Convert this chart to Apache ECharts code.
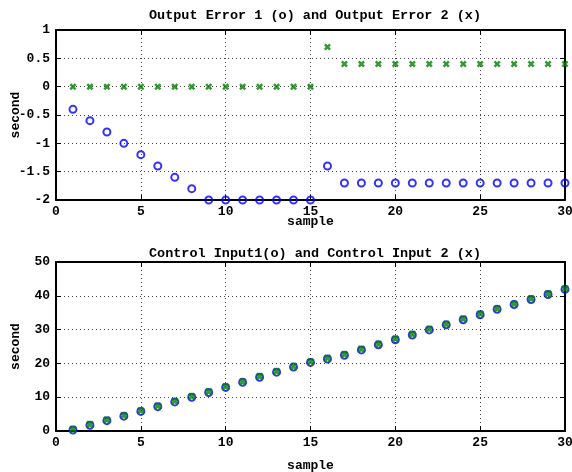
<!DOCTYPE html>
<html>
<head>
<meta charset="utf-8">
<script src="https://cdn.jsdelivr.net/npm/echarts@6/dist/echarts.min.js"></script>
<style>
  html, body { margin: 0; padding: 0; background: #fff; }
  #chart { width: 572px; height: 472px; }
</style>
</head>
<body>
<div id="chart"></div>
<script>
// sample index (x axis)
const samples = [1, 2, 3, 4, 5, 6, 7, 8, 9, 10, 11, 12, 13, 14, 15,
  16, 17, 18, 19, 20, 21, 22, 23, 24, 25, 26, 27, 28, 29, 30];

// top plot
const outputError1 = [-0.4, -0.6, -0.8, -1.0, -1.2, -1.4, -1.6, -1.8, -2, -2, -2, -2, -2, -2, -2,
  -1.4, -1.7, -1.7, -1.7, -1.7, -1.7, -1.7, -1.7, -1.7, -1.7, -1.7, -1.7, -1.7, -1.7, -1.7];
const outputError2 = [0, 0, 0, 0, 0, 0, 0, 0, 0, 0, 0, 0, 0, 0, 0,
  0.7, 0.4, 0.4, 0.4, 0.4, 0.4, 0.4, 0.4, 0.4, 0.4, 0.4, 0.4, 0.4, 0.4, 0.4];

// bottom plot
const controlInput1 = [0.3, 1.7, 3.05, 4.4, 5.8, 7.2, 8.6, 10.0, 11.4, 12.9, 14.4, 15.9, 17.4, 18.9, 20.3,
  21.3, 22.4, 24.0, 25.5, 27.0, 28.4, 29.9, 31.4, 32.9, 34.4, 36.0, 37.4, 38.9, 40.4, 41.9];
const controlInput2 = [0.5, 1.9, 3.25, 4.6, 6.0, 7.4, 8.8, 10.2, 11.6, 13.1, 14.6, 16.1, 17.6, 19.1, 20.5,
  21.5, 22.6, 24.2, 25.7, 27.2, 28.6, 30.1, 31.6, 33.1, 34.6, 36.2, 37.6, 39.1, 40.6, 42.1];

const FONT = 'Liberation Mono';
const crossPath = 'path://M0,2.5L2.5,0L5,2.5L7.5,0L10,2.5L7.5,5L10,7.5L7.5,10L5,7.5L2.5,10L0,7.5L2.5,5Z';

const pairs = (ys) => samples.map((x, i) => [x, ys[i]]);

const labelStyle = { color: '#000', fontFamily: FONT, fontWeight: 'bold', fontSize: 13 };
const titleStyle = { color: '#000', fontFamily: FONT, fontWeight: 'bold', fontSize: 13.5 };

function mainX(gridIndex, nameGap) {
  return {
    type: 'value', gridIndex, min: 0, max: 30, interval: 5,
    name: 'sample', nameLocation: 'middle', nameGap, nameMoveOverlap: false,
    nameTextStyle: labelStyle,
    axisLine: { show: true, onZero: false, lineStyle: { color: '#000', width: 2 } },
    axisTick: { show: true, inside: true, length: 5, lineStyle: { color: '#000', width: 1 } },
    axisLabel: Object.assign({ margin: 5 }, labelStyle),
    splitLine: { show: true, lineStyle: { color: '#444', width: 1, type: [1, 3] } }
  };
}
function sideX(gridIndex) {
  return {
    type: 'value', gridIndex, min: 0, max: 30, interval: 5, position: 'top',
    axisLine: { show: true, onZero: false, lineStyle: { color: '#000', width: 2 } },
    axisTick: { show: true, inside: true, length: 5, lineStyle: { color: '#000', width: 1 } },
    axisLabel: { show: false }, splitLine: { show: false }
  };
}
function mainY(gridIndex, min, max, interval) {
  return {
    type: 'value', gridIndex, min, max, interval,
    name: 'second', nameLocation: 'middle', nameGap: 34, nameRotate: 90, nameMoveOverlap: false,
    nameTextStyle: labelStyle,
    axisLine: { show: true, onZero: false, lineStyle: { color: '#000', width: 2 } },
    axisTick: { show: true, inside: true, length: 5, lineStyle: { color: '#000', width: 1 } },
    axisLabel: Object.assign({ margin: 6 }, labelStyle),
    splitLine: { show: true, lineStyle: { color: '#444', width: 1, type: [1, 3] } }
  };
}
function sideY(gridIndex, min, max, interval) {
  return {
    type: 'value', gridIndex, min, max, interval, position: 'right',
    axisLine: { show: true, onZero: false, lineStyle: { color: '#000', width: 2 } },
    axisTick: { show: true, inside: true, length: 5, lineStyle: { color: '#000', width: 1 } },
    axisLabel: { show: false }, splitLine: { show: false }
  };
}

function circles(ys, xi, yi) {
  return {
    type: 'scatter', xAxisIndex: xi, yAxisIndex: yi, data: pairs(ys),
    symbol: 'circle', symbolSize: 7,
    itemStyle: { color: 'rgba(0,0,0,0)', borderColor: '#0000ff', borderWidth: 2 },
    silent: true, z: 3
  };
}
function crosses(ys, xi, yi, size) {
  return {
    type: 'scatter', xAxisIndex: xi, yAxisIndex: yi, data: pairs(ys),
    symbol: crossPath, symbolSize: size,
    itemStyle: { color: '#008000' },
    silent: true, z: 4
  };
}

const chart = echarts.init(document.getElementById('chart'), null, { renderer: 'canvas' });
chart.setOption({
  animation: false,
  backgroundColor: '#fff',
  title: [
    { text: 'Output Error 1 (o) and Output Error 2 (x)', left: 310, top: 4, textAlign: 'center',
      textStyle: titleStyle },
    { text: 'Control Input1(o) and Control Input 2 (x)', left: 310, top: 242, textAlign: 'center',
      textStyle: titleStyle }
  ],
  grid: [
    { left: 56, right: 7, top: 30, height: 170, containLabel: false, outerBoundsMode: 'none' },
    { left: 56, right: 7, top: 262, height: 169, containLabel: false, outerBoundsMode: 'none' }
  ],
  xAxis: [mainX(0, 15), sideX(0), mainX(1, 28), sideX(1)],
  yAxis: [mainY(0, -2, 1, 0.5), sideY(0, -2, 1, 0.5), mainY(1, 0, 50, 10), sideY(1, 0, 50, 10)],
  series: [
    circles(outputError1, 0, 0),
    crosses(outputError2, 0, 0, 7),
    circles(controlInput1, 2, 2),
    crosses(controlInput2, 2, 2, 8)
  ]
});
</script>
</body>
</html>
